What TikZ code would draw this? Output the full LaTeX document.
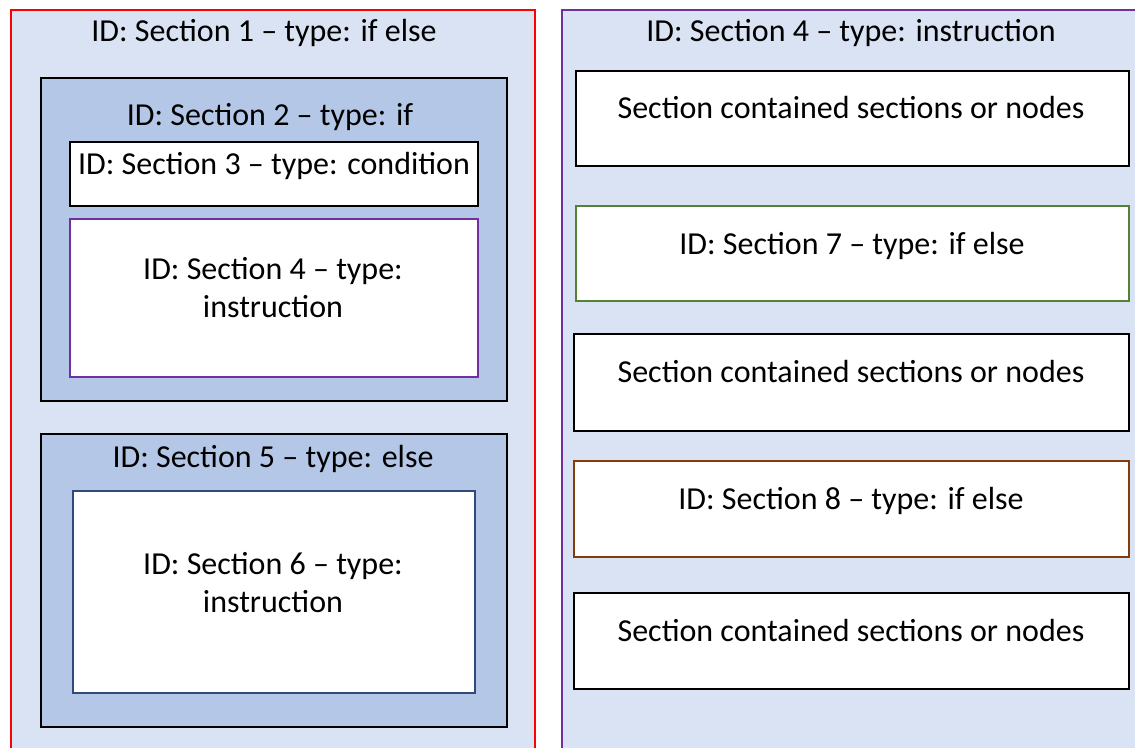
\documentclass[tikz,border=0pt]{standalone}
\usepackage{fontspec}
\setmainfont{Carlito}
\usetikzlibrary{positioning}
\definecolor{paleblue}{HTML}{DAE3F3}
\definecolor{midblue}{HTML}{B4C7E7}
\definecolor{navyline}{HTML}{2F4A7A}
\definecolor{purpline}{HTML}{7030A0}
\definecolor{greenline}{HTML}{548235}
\definecolor{brownline}{HTML}{843C0C}

\begin{document}
\begin{tikzpicture}[x=1pt, y=-1pt,
		secbox/.style={draw=black, line width=1.6pt, inner sep=0pt, anchor=north west},
		sectext/.style={inner sep=0pt, anchor=base, align=center, font=\fontsize{32}{38}\selectfont}]
				\clip (0,0) rectangle (1135,747);
				\fill[white] (0,0) rectangle (1135,747);
				% left column: if else section
				\node[secbox, draw=red, fill=paleblue, minimum width=524pt, minimum height=800pt] (sec1) at (10,9){};%
				\node[sectext] (sec1t) at (264,41){ID: Section 1 -- type: if else};%
				\node[secbox, fill=midblue, minimum width=466pt, minimum height=323pt] (sec2) at (40,77){};%
				\node[sectext] (sec2t) at (270,125){ID: Section 2 -- type: if};%
				\node[secbox, fill=white, minimum width=408pt, minimum height=64pt] (sec3) at (69,141){};%
				\node[sectext] (sec3t) at (274,174){ID: Section 3 -- type: condition};%
				\node[secbox, draw=purpline, fill=white, minimum width=408pt, minimum height=158pt] (sec4) at (69,218){};%
				\node[sectext] (sec4t) at (273,317){ID: Section 4 -- type:\\instruction};% base = last line
				\node[secbox, fill=midblue, minimum width=466pt, minimum height=293pt] (sec5) at (40,433){};%
				\node[sectext] (sec5t) at (273,467){ID: Section 5 -- type: else};%
				\node[secbox, draw=navyline, fill=white, minimum width=402pt, minimum height=202pt] (sec6) at (72,490){};%
				\node[sectext] (sec6t) at (273,612){ID: Section 6 -- type:\\instruction};% base = last line
				% right column: instruction section
				\node[secbox, draw=purpline, fill=paleblue, minimum width=620pt, minimum height=800pt] (secr) at (561,9){};%
				\node[sectext] (secrt) at (851,41){ID: Section 4 -- type: instruction};%
				\node[secbox, fill=white, minimum width=553pt, minimum height=95pt] (subA) at (575,70){};%
				\node[sectext] (subAt) at (851,118){Section contained sections or nodes};%
				\node[secbox, draw=greenline, fill=white, minimum width=553pt, minimum height=95pt] (sec7) at (575,205){};%
				\node[sectext] (sec7t) at (852,254){ID: Section 7 -- type: if else};%
				\node[secbox, fill=white, minimum width=555pt, minimum height=97pt] (subB) at (573,333){};%
				\node[sectext] (subBt) at (851,382){Section contained sections or nodes};%
				\node[secbox, draw=brownline, fill=white, minimum width=555pt, minimum height=96pt] (sec8) at (573,460){};%
				\node[sectext] (sec8t) at (851,509){ID: Section 8 -- type: if else};%
				\node[secbox, fill=white, minimum width=555pt, minimum height=96pt] (subC) at (573,592){};%
				\node[sectext] (subCt) at (851,641){Section contained sections or nodes};%
\end{tikzpicture}
\end{document}
